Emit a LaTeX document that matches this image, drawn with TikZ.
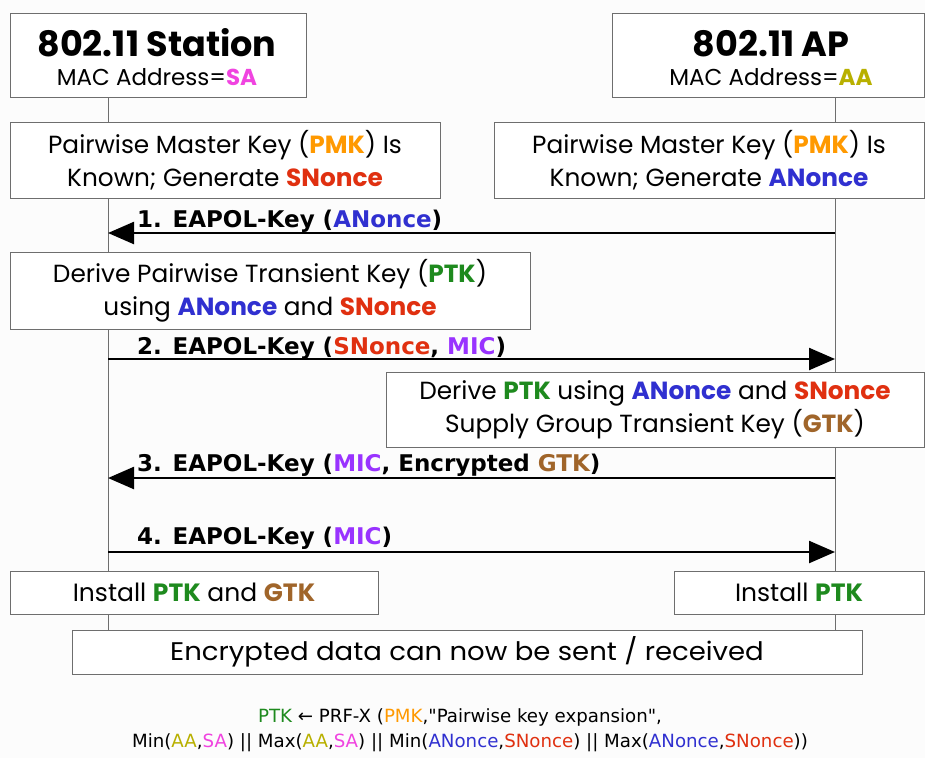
\documentclass[tikz,border=0pt]{standalone}
\usepackage{fontspec}
\setmainfont{Poppins}
\newfontfamily\lblfont{DejaVu Sans}
\newfontfamily\slimfont{Poppins}
\newfontfamily\widefont[FakeStretch=1.08]{Poppins}
\newfontfamily\prffont{DejaVu Sans}
\usetikzlibrary{arrows.meta}

% colours of the key names
\definecolor{cSA}{HTML}{F044E0}
\definecolor{cAA}{HTML}{B8B000}
\definecolor{cPMK}{HTML}{FF9900}
\definecolor{cSN}{HTML}{E03010}
\definecolor{cAN}{HTML}{3030D0}
\definecolor{cPTK}{HTML}{1E8A1E}
\definecolor{cMIC}{HTML}{9933FF}
\definecolor{cGTK}{HTML}{A0652A}
\definecolor{boxline}{HTML}{6E6E6E}
\definecolor{bg}{HTML}{FCFCFC}

\newcommand{\kSA}{\textcolor{cSA}{\textbf{SA}}}
\newcommand{\kAA}{\textcolor{cAA}{\textbf{AA}}}
\newcommand{\kPMK}{\textcolor{cPMK}{\textbf{PMK}}}
\newcommand{\kSN}{\textcolor{cSN}{\textbf{SNonce}}}
\newcommand{\kAN}{\textcolor{cAN}{\textbf{ANonce}}}
\newcommand{\kPTK}{\textcolor{cPTK}{\textbf{PTK}}}
\newcommand{\kMIC}{\textcolor{cMIC}{\textbf{MIC}}}
\newcommand{\kGTK}{\textcolor{cGTK}{\textbf{GTK}}}

\tikzset{
  panel/.style={draw=boxline, line width=1pt, fill=white, rectangle,
    inner sep=0pt, align=center},
  headbox/.style={panel, minimum height=84pt},
  headtitle/.style={anchor=base, inner sep=0pt, font=\bfseries\fontsize{35}{40}\selectfont},
  headmac/.style={anchor=base, inner sep=0pt, font=\fontsize{23}{26}\selectfont},
  stepbox/.style={panel, font=\fontsize{24.8}{33}\selectfont},
  slimbox/.style={panel, minimum height=43pt, font=\slimfont\fontsize{25}{30}\selectfont},
  msg/.style={line width=2.4pt, -{Triangle[length=26pt,width=22pt]}},
  msglabel/.style={anchor=base west, inner sep=0pt,
    font=\lblfont\bfseries\fontsize{23}{26}\selectfont},
  prfline/.style={anchor=base, inner sep=0pt, font=\prffont\fontsize{18.2}{22}\selectfont},
  lifeline/.style={draw=boxline, line width=1pt},
}

\begin{document}
\begin{tikzpicture}[x=1pt,y=-1pt]
  \fill[bg] (0,0) rectangle (925,758);
  \useasboundingbox (0,0) rectangle (925,758);

  % lifelines, drawn first so the boxes cover them
  \coordinate (stTop) at (108,97);
  \coordinate (stEnd) at (108,630);
  \coordinate (apTop) at (835,97);
  \coordinate (apEnd) at (835,630);
  \draw[lifeline] (stTop) -- (stEnd);
  \draw[lifeline] (apTop) -- (apEnd);

  % parties
  \node[headbox, minimum width=296pt] (sta) at (158,55) {};
  \node[headtitle] (staT) at (157,56) {802.11 Station};
  \node[headmac] (staM) at (157,85) {MAC Address=\kSA};
  \node[headbox, minimum width=312pt] (ap) at (768,55) {};
  \node[headtitle] (apT) at (771,56) {802.11 AP};
  \node[headmac] (apM) at (771,85) {MAC Address=\kAA};

  % preconditions
  \node[stepbox, minimum width=430pt, minimum height=76pt] (pmkS) at (225,160)
    {Pairwise Master Key (\kPMK) Is\\Known; Generate \kSN};
  \node[stepbox, minimum width=430pt, minimum height=76pt] (pmkA) at (709,160)
    {Pairwise Master Key (\kPMK) Is\\Known; Generate \kAN};

  % message 1
  \coordinate (m1a) at (835,233);
  \coordinate (m1s) at (108,233);
  \draw[msg] (m1a) -- (m1s);
  \node[msglabel] (l1) at (137,227) {1. EAPOL-Key (\textcolor{cAN}{ANonce})};

  \node[stepbox, minimum width=520pt, minimum height=77pt] (ptkS) at (270,290.5)
    {Derive Pairwise Transient Key (\kPTK)\\using \kAN{} and \kSN};

  % message 2
  \coordinate (m2s) at (108,359);
  \coordinate (m2a) at (835,359);
  \draw[msg] (m2s) -- (m2a);
  \node[msglabel] (l2) at (137,354) {2. EAPOL-Key (\textcolor{cSN}{SNonce}, \textcolor{cMIC}{MIC})};

  \node[stepbox, minimum width=538pt, minimum height=75pt] (ptkA) at (655,409.5)
    {Derive \kPTK{} using \kAN{} and \kSN\\Supply Group Transient Key (\kGTK)};

  % message 3
  \coordinate (m3a) at (835,478);
  \coordinate (m3s) at (108,478);
  \draw[msg] (m3a) -- (m3s);
  \node[msglabel] (l3) at (137,471) {3. EAPOL-Key (\textcolor{cMIC}{MIC}, Encrypted \textcolor{cGTK}{GTK})};

  % message 4
  \coordinate (m4s) at (108,552);
  \coordinate (m4a) at (835,552);
  \draw[msg] (m4s) -- (m4a);
  \node[msglabel] (l4) at (137,544) {4. EAPOL-Key (\textcolor{cMIC}{MIC})};

  % results
  \node[slimbox, minimum width=368pt] (instS) at (194,592.5)
    {Install \kPTK{} and \kGTK};
  \node[slimbox, minimum width=250pt] (instA) at (799,592.5)
    {Install \kPTK};
  \node[slimbox, minimum width=790pt, minimum height=44pt, font=\widefont\fontsize{25.5}{30}\selectfont] (data) at (467,652)
    {Encrypted data can now be sent / received};

  % key derivation formula
  \node[prfline] (prf1) at (460,722)
    {\textcolor{cPTK}{PTK} ← PRF-X (\textcolor{cPMK}{PMK},"Pairwise key expansion",};
  \node[prfline] (prf2) at (470,747)
    {Min(\textcolor{cAA}{AA},\textcolor{cSA}{SA}) || Max(\textcolor{cAA}{AA},\textcolor{cSA}{SA}) ||
     Min(\textcolor{cAN}{ANonce},\textcolor{cSN}{SNonce}) || Max(\textcolor{cAN}{ANonce},\textcolor{cSN}{SNonce}))};
\end{tikzpicture}
\end{document}
